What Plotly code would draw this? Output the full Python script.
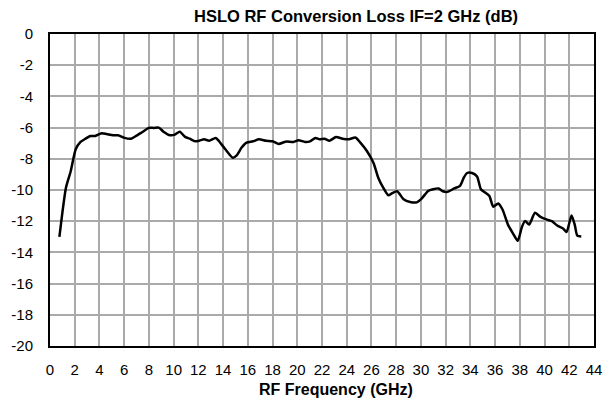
import plotly.graph_objects as go

freq_ghz = [0.76, 1.29, 1.68, 2.08, 2.47, 2.87, 3.26, 3.66, 4.18, 4.58, 5.1, 5.5, 6.03, 6.55, 6.95,
            7.47, 8.0, 8.39, 8.79, 9.18, 9.71, 10.1, 10.5, 10.9, 11.3, 11.74, 12.08, 12.47, 12.87,
            13.4, 13.66, 14.18, 14.79, 15.1, 15.5, 15.9, 16.42, 16.9, 17.47, 18.0, 18.5, 19.05,
            19.7, 20.1, 20.63, 21.03, 21.47, 21.8, 22.2, 22.6, 23.13, 23.66, 24.18, 24.7, 25.1,
            25.63, 26.16, 26.55, 26.95, 27.37, 27.68, 28.08, 28.6, 29.13, 29.66, 30.06, 30.58,
            30.98, 31.43, 31.77, 32.16, 32.69, 33.16, 33.48, 33.74, 34.14, 34.54, 34.85, 35.19,
            35.54, 35.85, 36.25, 36.6, 37.04, 37.43, 37.83, 38.17, 38.43, 38.75, 39.23, 39.67,
            40.2, 40.6, 40.99, 41.52, 41.78, 42.18, 42.44, 42.65, 42.97]
loss_db = [-13.0, -9.85, -8.78, -7.39, -6.92, -6.71, -6.54, -6.54, -6.36, -6.41, -6.49, -6.49, -6.66,
           -6.71, -6.54, -6.28, -6.02, -6.02, -6.0, -6.26, -6.49, -6.45, -6.26, -6.58, -6.71, -6.88,
           -6.84, -6.75, -6.84, -6.66, -6.86, -7.39, -7.93, -7.78, -7.28, -6.96, -6.88, -6.75, -6.84,
           -6.88, -7.05, -6.9, -6.92, -6.81, -6.92, -6.88, -6.66, -6.75, -6.71, -6.84, -6.6, -6.71,
           -6.75, -6.64, -6.96, -7.5, -8.25, -9.21, -9.85, -10.34, -10.2, -10.08, -10.6, -10.77,
           -10.79, -10.55, -10.06, -9.95, -9.9, -10.08, -10.12, -9.9, -9.73, -9.19, -8.91, -8.91,
           -9.13, -9.95, -10.16, -10.38, -11.07, -10.86, -11.25, -12.22, -12.76, -13.26, -12.37,
           -11.98, -12.22, -11.46, -11.72, -11.9, -12.0, -12.26, -12.48, -12.7, -11.64, -12.22,
           -12.93, -12.98]

x_ticks = list(range(0, 45, 2))
y_ticks = list(range(-20, 1, 2))
chart_title = "HSLO RF Conversion Loss IF=2 GHz (dB)"
x_title = "RF Frequency (GHz)"

fig = go.Figure()
fig.add_trace(go.Scatter(x=freq_ghz, y=loss_db, mode="lines",
                         line=dict(color="black", width=2.5, shape="spline", smoothing=0.6),
                         showlegend=False, hoverinfo="skip"))

font_family = "Liberation Sans, Arial, Helvetica, sans-serif"
fig.update_layout(
    width=613, height=401,
    margin=dict(l=45, r=11, t=34, b=55),
    paper_bgcolor="white", plot_bgcolor="white",
    font=dict(family=font_family, size=15, color="black"),
    annotations=[
        dict(text="<b>" + chart_title + "</b>", x=0.562, y=1.058, xref="paper", yref="paper",
             xanchor="center", yanchor="middle", showarrow=False,
             font=dict(size=16.5, family=font_family, color="black")),
        dict(text="<b>" + x_title + "</b>", x=0.526, y=-0.141, xref="paper", yref="paper",
             xanchor="center", yanchor="middle", showarrow=False,
             font=dict(size=16, family=font_family, color="black")),
    ],
)
fig.update_xaxes(range=[0, 44], tickvals=x_ticks, ticktext=[str(v) for v in x_ticks],
                 showgrid=True, gridcolor="#aaaaaa", gridwidth=1.5,
                 showline=True, linecolor="black", linewidth=2, mirror=True,
                 ticks="", ticklabelstandoff=9, zeroline=False, ticklabeloverflow="allow")
fig.update_yaxes(range=[-20, 0], tickvals=y_ticks, ticktext=[str(v) for v in y_ticks],
                 showgrid=True, gridcolor="#aaaaaa", gridwidth=1.5,
                 showline=True, linecolor="black", linewidth=2, mirror=True,
                 ticks="", ticklabelstandoff=12, zeroline=False)

fig.write_html("out.html", config={"displayModeBar": False},
               post_script="document.body.style.margin='0';document.body.style.overflow='hidden';")
